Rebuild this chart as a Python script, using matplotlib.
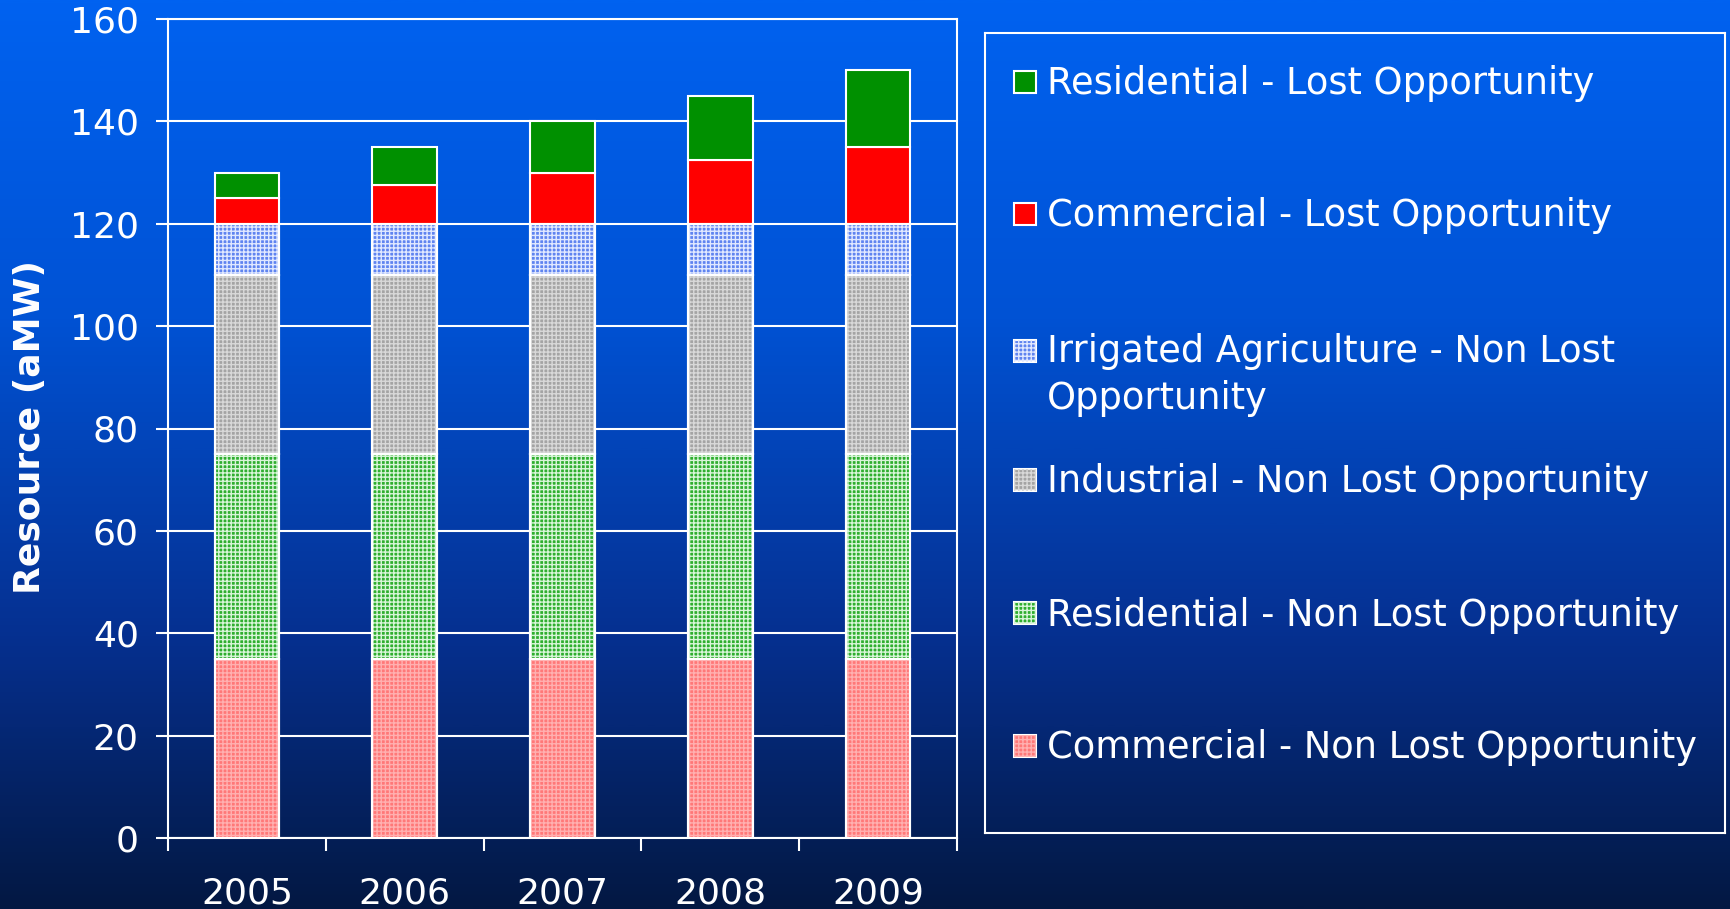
import numpy as np
import matplotlib
matplotlib.use("Agg")
import matplotlib.pyplot as plt
from matplotlib.patches import Rectangle
from matplotlib.colors import LinearSegmentedColormap

years = ["2005", "2006", "2007", "2008", "2009"]
commercial_nlo = [35, 35, 35, 35, 35]
residential_nlo = [40, 40, 40, 40, 40]
industrial_nlo = [35, 35, 35, 35, 35]
irrigated_nlo = [10, 10, 10, 10, 10]
commercial_lo = [5, 7.5, 10, 12.5, 15]
residential_lo = [5, 7.5, 10, 12.5, 15]

series_names = [
    "Commercial - Non Lost Opportunity",
    "Residential - Non Lost Opportunity",
    "Industrial - Non Lost Opportunity",
    "Irrigated Agriculture - Non Lost\nOpportunity",
    "Commercial - Lost Opportunity",
    "Residential - Lost Opportunity",
]
series_values = [commercial_nlo, residential_nlo, industrial_nlo,
                 irrigated_nlo, commercial_lo, residential_lo]
face_colors = ["#ff7878", "#2fae2f", "#a4a4a4", "#5f84f0", "#ff0000", "#009000"]
hatch_colors = ["#ffb0b0", "#d8f5d8", "#d8d8d8", "#e0e8ff", None, None]

plt.rcParams['font.family'] = ['DejaVu Sans']
plt.rcParams['hatch.linewidth'] = 1.0

fig = plt.figure(figsize=(17.30, 9.09), dpi=100)

# background gradient
bg = fig.add_axes([0, 0, 1, 1], zorder=-10)
cmap = LinearSegmentedColormap.from_list(
    "bg", [(0.0, "#0062f0"), (0.35, "#0052d4"), (0.7, "#063090"), (1.0, "#031842")])
grad = np.linspace(0, 1, 512).reshape(-1, 1)
bg.imshow(grad, aspect="auto", cmap=cmap, extent=[0, 1, 0, 1], origin="upper")
bg.set_axis_off()

ax = fig.add_axes([168/1730, 1-838/909, (957-168)/1730, (838-19)/909])
ax.patch.set_alpha(0)
x = np.arange(len(years))
width = 0.41
bottom = np.zeros(len(years))
for vals, fc, hc in zip(series_values, face_colors, hatch_colors):
    ax.bar(x, vals, width, bottom=bottom, color=fc, edgecolor="white",
           linewidth=1.5, zorder=3)
    if hc is not None:
        ax.bar(x, vals, width, bottom=bottom, facecolor="none", edgecolor=hc,
               linewidth=0, hatch="++++", zorder=4)
        ax.bar(x, vals, width, bottom=bottom, facecolor="none", edgecolor="white",
               linewidth=1.5, zorder=5)
    bottom += np.array(vals)

ax.set_xlim(-0.5, 4.5)
ax.set_ylim(0, 160)
ax.set_yticks(np.arange(0, 161, 20))
ax.yaxis.grid(True, color="white", linewidth=1.5, zorder=1)
ax.set_axisbelow(True)
for s in ["left", "bottom", "right", "top"]:
    ax.spines[s].set_color("white")
    ax.spines[s].set_linewidth(1.5)
ax.set_xticks(x)
ax.set_xticklabels(years)
ax.set_xticks(np.arange(-0.5, 5.0, 1.0), minor=True)
ax.tick_params(axis="x", which="major", length=0, pad=28, labelsize=26, colors="white")
ax.tick_params(axis="x", which="minor", length=9, width=1.5, color="white")
ax.tick_params(axis="y", length=9, width=1.5, color="white", labelcolor="white",
               labelsize=26, pad=12)
fig.text(30/1730, 1-427/909, "Resource (aMW)", color="white", fontsize=26,
         fontweight="bold", rotation=90, ha="center", va="center")

# legend box
lg = fig.add_axes([985/1730, 1-833/909, (1725-985)/1730, (833-33)/909])
lg.patch.set_alpha(0)
lg.set_xlim(0, 740)
lg.set_ylim(800, 0)
lg.set_xticks([])
lg.set_yticks([])
for s in lg.spines.values():
    s.set_color("white")
    s.set_linewidth(1.5)
ys = [49, 181, 318, 447, 580, 713]
order = [5, 4, 3, 2, 1, 0]
for yy, idx in zip(ys, order):
    lg.add_patch(Rectangle((29, yy - 11), 22, 22, facecolor=face_colors[idx],
                           edgecolor="white", linewidth=1.5))
    if hatch_colors[idx] is not None:
        lg.add_patch(Rectangle((29, yy - 11), 22, 22, facecolor="none",
                               edgecolor=hatch_colors[idx], linewidth=0, hatch="++++"))
    if idx == 3:
        lg.text(62, yy + 24, series_names[idx], color="white", fontsize=26.5,
                va="center", ha="left", linespacing=1.35)
    else:
        lg.text(62, yy + 2, series_names[idx], color="white", fontsize=26.5,
                va="center", ha="left")

fig.savefig("out.png", dpi=100)
